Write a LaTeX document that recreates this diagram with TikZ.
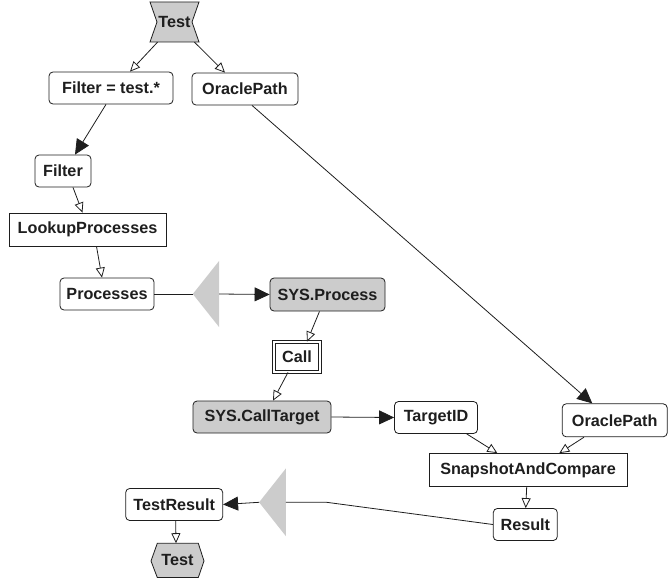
\documentclass[tikz,border=0pt]{standalone}
\usepackage{fontspec}
\setmainfont{Liberation Sans}
\usetikzlibrary{arrows.meta,calc}
\definecolor{nodegray}{RGB}{204,204,204}
\definecolor{ink}{RGB}{30,30,30}
\begin{document}
\begin{tikzpicture}[x=1pt,y=-1pt,
  txt/.style={font=\fontsize{16.2}{16.2}\selectfont\bfseries, text=ink, inner sep=0pt},
  box/.style={txt, draw=ink, line width=0.8pt, rounded corners=4pt, fill=white, minimum height=32pt},
  sqbox/.style={box, rounded corners=0pt},
  graybox/.style={box, fill=nodegray},
  openarr/.style={draw=ink, line width=0.8pt, -{Triangle[open, length=10pt, width=9pt]}},
  fillarr/.style={draw=ink, line width=0.8pt, -{Triangle[length=15pt, width=14pt]}},
  plain/.style={draw=ink, line width=0.8pt},
  trifill/.style={fill=nodegray, draw=none}
]
\useasboundingbox (0,0) rectangle (671,578);

% top Test (hourglass shape)
\filldraw[fill=nodegray, draw=ink, line width=0.8pt] (150,2) -- (199,2) -- (192,22) -- (199,42) -- (150,42) -- (157,22) -- cycle;
\node[txt, minimum width=49pt, minimum height=40pt] (t1) at (174.5,22) {Test};

\node[box, minimum width=124pt] (f1) at (111,88) {Filter = test.*};
\node[box, minimum width=106pt] (op1) at (245,89) {OraclePath};
\node[box, minimum width=56pt] (flt) at (63,171) {Filter};
\node[sqbox, minimum width=157pt, minimum height=33pt] (lk) at (87.5,229.5) {LookupProcesses};
\node[box, minimum width=94pt] (pr) at (107,294) {Processes};

% triangle 1
\node[minimum width=26pt, minimum height=66pt, inner sep=0pt] (tri1) at (206,294) {};
\fill[trifill] (tri1.west) -- (tri1.north east) -- (tri1.south east) -- cycle;

\node[graybox, minimum width=115pt, minimum height=33pt] (sp) at (327.5,294.5) {SYS.Process};
\node[txt, draw=ink, line width=0.8pt, double, double distance=1.6pt, fill=white, minimum width=46pt, minimum height=30pt] (call) at (297,357) {Call};
\node[graybox, minimum width=138pt] (ct) at (262,417) {SYS.CallTarget};
\node[box, minimum width=83pt] (tid) at (436,417.5) {TargetID};
\node[box, minimum width=105pt, minimum height=33pt] (op2) at (614.7,420.3) {OraclePath};
\node[sqbox, minimum width=198pt, minimum height=33pt] (snap) at (528,470) {SnapshotAndCompare};
\node[box, minimum width=64pt] (res) at (525.3,524.5) {Result};
\node[box, minimum width=97pt] (tr) at (174.2,504.5) {TestResult};

% triangle 2
\node[minimum width=26.4pt, minimum height=67.4pt, inner sep=0pt] (tri2) at (272.5,502.3) {};
\fill[trifill] (tri2.west) -- (tri2.north east) -- (tri2.south east) -- cycle;

% bottom Test (hexagon)
\filldraw[fill=nodegray, draw=ink, line width=0.8pt] (151,561) -- (157.3,543.3) -- (198.3,543.3) -- (204,561) -- (198.3,577.5) -- (157.3,577.5) -- cycle;
\node[txt, minimum width=53pt, minimum height=34pt] (t2) at (177.5,560.4) {Test};

\coordinate (bend) at (326.7,502.3);

% connectors
\draw[openarr] ([xshift=-17pt]t1.south) -- ([xshift=19pt]f1.north);
\draw[openarr] ([xshift=20pt]t1.south) -- ([xshift=-20pt]op1.north);
\draw[fillarr] ([xshift=-5pt]f1.south) -- ([xshift=12pt]flt.north);
\draw[openarr] ([xshift=10pt]flt.south) -- ([xshift=-5pt]lk.north);
\draw[openarr] ([xshift=9pt]lk.south) -- ([xshift=-5pt]pr.north);
\draw[plain] (pr.east) -- (tri1.west);
\draw[fillarr] (tri1.east) -- (sp.west);
\draw[openarr] ([xshift=-8pt]sp.south) -- ([xshift=10pt]call.north);
\draw[openarr] ([xshift=-9pt]call.south) -- ([xshift=11pt]ct.north);
\draw[fillarr] (ct.east) -- (tid.west);
\draw[fillarr] ([xshift=7pt]op1.south) -- ([xshift=-22.4pt]op2.north);
\draw[openarr] ([xshift=30.7pt]tid.south) -- ([xshift=-30.7pt]snap.north);
\draw[openarr] ([xshift=-30.7pt]op2.south) -- ([xshift=31.3pt]snap.north);
\draw[openarr] ([xshift=-1.3pt]snap.south) -- ([xshift=0.4pt]res.north);
\draw[plain] (res.west) -- (bend) -- (tri2.east);
\draw[fillarr] (tri2.west) -- (tr.east);
\draw[openarr] ([xshift=1.5pt]tr.south) -- ([xshift=-1.5pt]t2.north);
\end{tikzpicture}
\end{document}
